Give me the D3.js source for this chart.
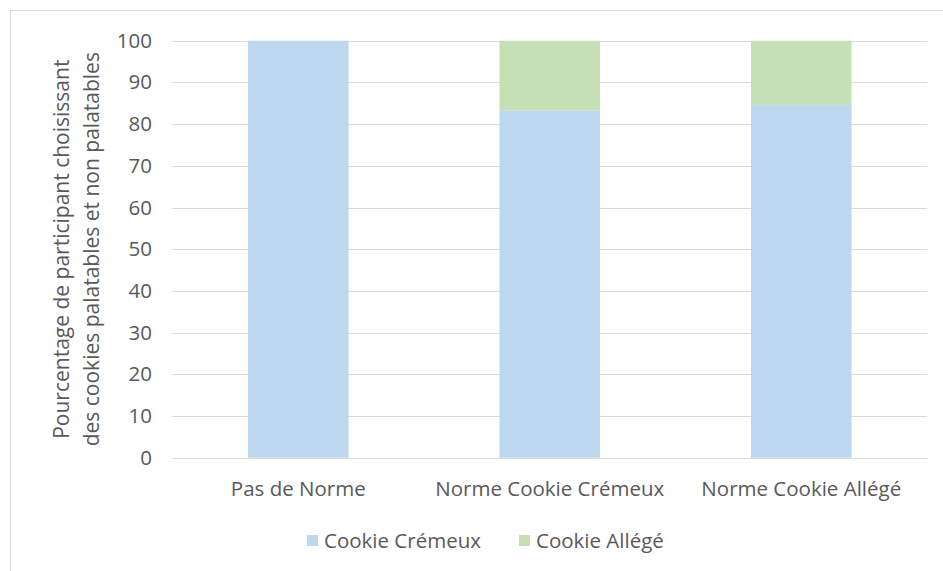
<!DOCTYPE html>
<html>
<head>
<meta charset="utf-8">
<script src="https://cdn.jsdelivr.net/npm/d3@7"></script>
<style>
  html, body { margin: 0; padding: 0; background: #fff; }
  svg { display: block; }
  text { font-family: "Open Sans", "Noto Sans", sans-serif; fill: #595959; }
</style>
</head>
<body>
<svg id="chart" width="943" height="571"></svg>
<script>
const categories = ["Pas de Norme", "Norme Cookie Crémeux", "Norme Cookie Allégé"];
const seriesNames = ["Cookie Crémeux", "Cookie Allégé"];
const cremeux = [100, 83.3, 84.6];
const allege = [0, 16.7, 15.4];
const yTicks = [0, 10, 20, 30, 40, 50, 60, 70, 80, 90, 100];
const yTitle = ["Pourcentage de participant choisissant", "des cookies palatables et non palatables"];
const colors = ["#BDD7EE", "#C5E0B4"];

const svg = d3.select("#chart");

// chart frame
svg.append("rect").attr("x", 10.5).attr("y", 10.5).attr("width", 945).attr("height", 580)
  .attr("fill", "#fff").attr("stroke", "#d9d9d9").attr("stroke-width", 1);

const plot = { left: 172.5, right: 927, top: 40.7, bottom: 457.7 };

const x = d3.scaleBand().domain(categories).range([plot.left, plot.right]).paddingInner(0.6).paddingOuter(0.3);
const y = d3.scaleLinear().domain([0, 100]).range([plot.bottom, plot.top]);

// gridlines
svg.append("g").selectAll("line").data(yTicks).join("line")
  .attr("x1", plot.left).attr("x2", plot.right)
  .attr("y1", d => Math.round(y(d)) + 0.5).attr("y2", d => Math.round(y(d)) + 0.5)
  .attr("stroke", "#d9d9d9").attr("stroke-width", 1);

// y axis labels
const yAxis = d3.axisLeft(y).tickValues(yTicks).tickSize(0).tickPadding(0);
const gy = svg.append("g").attr("transform", `translate(${152},0)`).call(yAxis);
gy.select(".domain").remove();
gy.selectAll("text").style("font-family", '"Open Sans", sans-serif').style("font-size", "20.5px").attr("fill", "#595959");

// stacked bars
const rows = categories.map((c, i) => ({ cat: c, "Cookie Crémeux": cremeux[i], "Cookie Allégé": allege[i] }));
const stack = d3.stack().keys(seriesNames)(rows);
svg.append("g").selectAll("g").data(stack).join("g")
  .attr("fill", (d, i) => colors[i])
  .selectAll("rect").data(d => d).join("rect")
  .attr("x", d => x(d.data.cat))
  .attr("width", x.bandwidth())
  .attr("y", d => y(d[1]))
  .attr("height", d => y(d[0]) - y(d[1]));

// baseline
svg.append("line").attr("x1", plot.left).attr("x2", plot.right)
  .attr("y1", Math.round(y(0)) + 0.5).attr("y2", Math.round(y(0)) + 0.5)
  .attr("stroke", "#d9d9d9");

// x axis labels
const xAxis = d3.axisBottom(x).tickSize(0).tickPadding(0);
const gx = svg.append("g").attr("transform", `translate(0,${489})`).call(xAxis);
gx.select(".domain").remove();
gx.selectAll("text").attr("dy", "0.35em").style("font-family", '"Open Sans", sans-serif').style("font-size", "20.5px").attr("fill", "#595959");

// y title
const title = svg.append("text").attr("transform", `translate(0,${(plot.top + plot.bottom) / 2}) rotate(-90)`)
  .attr("text-anchor", "middle").style("font-size", "21px");
title.selectAll("tspan").data(yTitle).join("tspan")
  .attr("x", 0).attr("y", (d, i) => [62, 92][i]).attr("dy", "0.35em").text(d => d);

// legend
const legendItems = [{ name: seriesNames[0], color: colors[0], x: 307 }, { name: seriesNames[1], color: colors[1], x: 519 }];
const lg = svg.append("g").selectAll("g").data(legendItems).join("g")
  .attr("transform", d => `translate(${d.x},${541})`);
lg.append("rect").attr("x", 0).attr("y", -6).attr("width", 11).attr("height", 11).attr("fill", d => d.color);
lg.append("text").attr("x", 17).attr("dy", "0.35em").style("font-size", "20.5px").text(d => d.name);
</script>
</body>
</html>
